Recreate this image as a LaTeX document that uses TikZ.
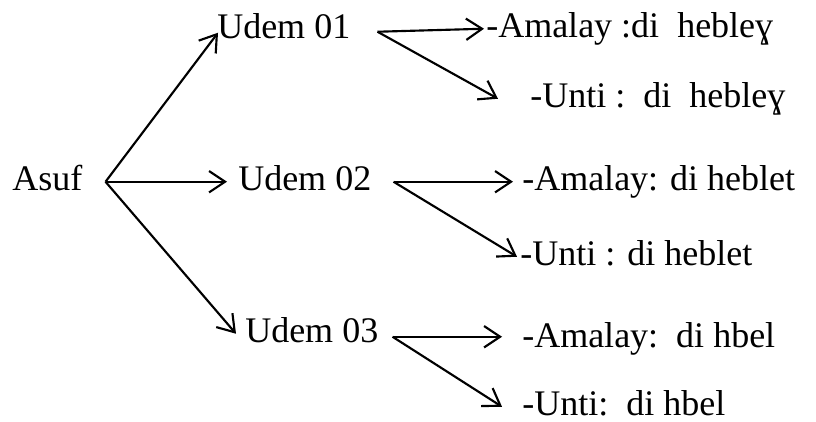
\documentclass[tikz,border=0pt]{standalone}
\usepackage{fontspec}
\setmainfont{Liberation Serif}
\usetikzlibrary{arrows.meta, calc}

\begin{document}
\fontsize{27}{32}\selectfont
\begin{tikzpicture}[
        x=0.75pt, y=-0.75pt,
        every node/.style={inner sep=0pt, anchor=base west},
        arr/.style={line width=1.6pt, -{Straight Barb[length=12pt, width=16pt]}}
    ]
        \useasboundingbox (0,0) rectangle (816,421);

        % Racine et les trois udem
        \node (asuf) at (12,190) {Asuf};
        \node (u1) at (217,38) {Udem 01};
        \node (u2) at (238,190) {Udem 02};
        \node (u3) at (245,342) {Udem 03};

        % Les feuilles
        \node (a1) at (486,37) {-Amalay :di\ \ hebleɣ};
        \node (b1) at (530,107) {-Unti :\ \ di\ \ hebleɣ};
        \node (a2) at (522,190) {-Amalay: di heblet};
        \node (b2) at (520,265) {-Unti : di heblet};
        \node (a3) at (522,347) {-Amalay:\ \ di hbel};
        \node (b3) at (522,415) {-Unti:\ \ di hbel};

        % Points de depart
        \coordinate (f0) at ($(asuf.mid east)+(23,0)$);
        \coordinate (f1) at ($(u1.mid east)+(27,2)$);
        \coordinate (f2) at ($(u2.mid east)+(22,0)$);
        \coordinate (f3) at ($(u3.mid east)+(14,3)$);

        % Fleches
        \draw[arr] (f0) -- ($(u1.mid west)+(1,3)$);
        \draw[arr] (f0) -- ($(u2.mid west)+(-11,0)$);
        \draw[arr] (f0) -- ($(u3.mid west)+(-9,0)$);
        \draw[arr] (f1) -- ($(a1.mid west)+(-2,0)$);
        \draw[arr] (f1) -- ($(b1.mid west)+(-32,0)$);
        \draw[arr] (f2) -- ($(a2.mid west)+(-9,0)$);
        \draw[arr] (f2) -- ($(b2.mid west)+(-3,0)$);
        \draw[arr] (f3) -- ($(a3.mid west)+(-20,-2)$);
        \draw[arr] (f3) -- ($(b3.mid west)+(-20,0)$);
\end{tikzpicture}
\end{document}
